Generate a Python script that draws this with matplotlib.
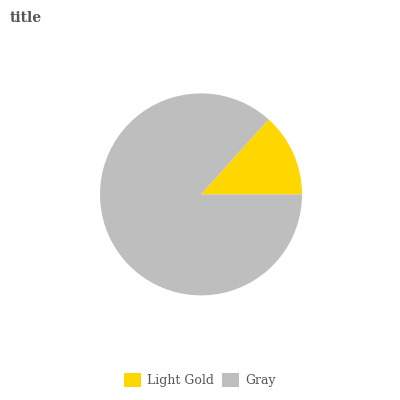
import matplotlib
matplotlib.use("Agg")
import matplotlib.pyplot as plt
from matplotlib.patches import Patch

labels = ["Light Gold", "Gray"]
values = [2, 13]
colors = ["#FFD700", "#BEBEBE"]

plt.rcParams['font.family'] = ['DejaVu Serif']
fig = plt.figure(figsize=(4, 4), dpi=100)
ax = fig.add_axes([0.25, 0.2615, 0.505, 0.505])
ax.pie(values, colors=colors, startangle=0, counterclock=True,
       wedgeprops=dict(linewidth=0))
ax.set_xlim(-1, 1)
ax.set_ylim(-1, 1)
ax.set_aspect('equal')
ax.axis('off')

fig.text(0.025, 0.955, "title", fontsize=10, fontweight='bold', color='#555555', va='center')
handles = [Patch(facecolor=c, edgecolor='none') for c in colors]
fig.legend(handles, labels, loc='center', bbox_to_anchor=(0.5, 0.05), ncol=2,
           frameon=False, fontsize=9, labelcolor='#555555', handlelength=1.35,
           handleheight=1.35, columnspacing=0.6, handletextpad=0.5)
fig.savefig("out.png", dpi=100)
